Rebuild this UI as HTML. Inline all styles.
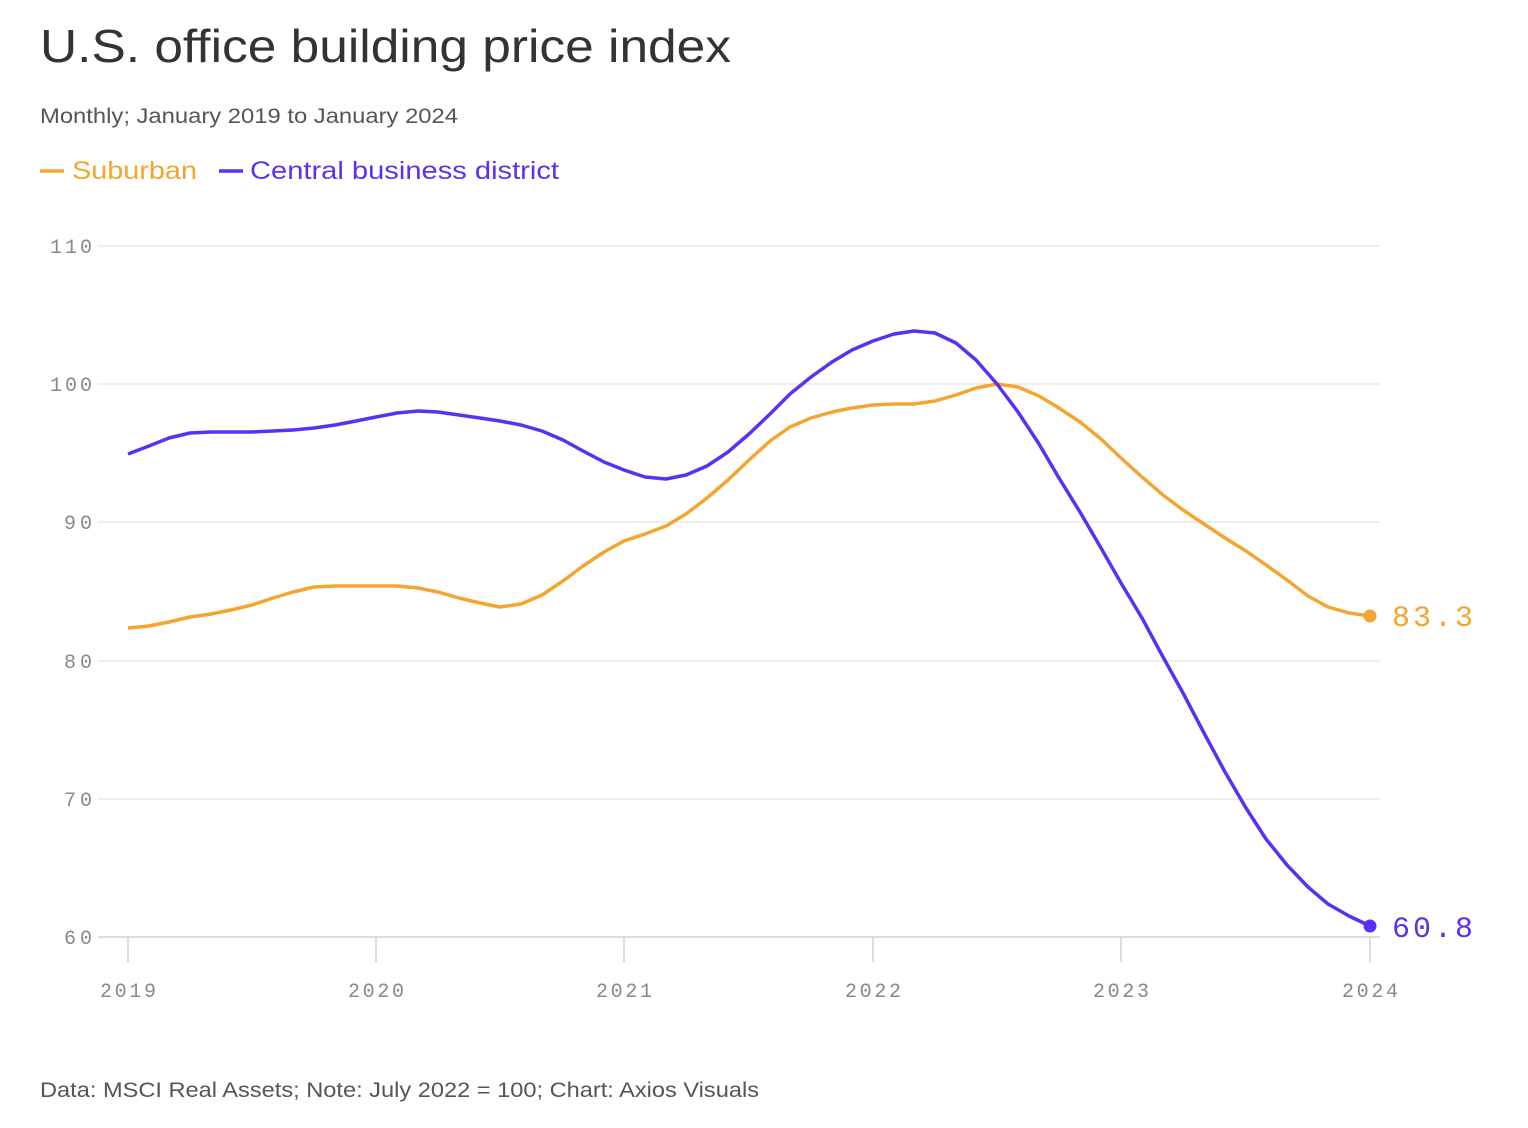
<!DOCTYPE html>
<html><head><meta charset="utf-8"><style>
body{margin:0;background:#fff;width:1528px;height:1128px;overflow:hidden;font-family:"Liberation Sans",sans-serif;}
</style></head><body>
<svg width="1528" height="1128" xmlns="http://www.w3.org/2000/svg" style="position:absolute;left:0;top:0">
<text x="40" y="62" font-size="46" fill="#333" font-family="Liberation Sans, sans-serif" textLength="691" lengthAdjust="spacingAndGlyphs">U.S. office building price index</text>
<text x="40" y="123" font-size="21" fill="#555" font-family="Liberation Sans, sans-serif" textLength="418" lengthAdjust="spacingAndGlyphs">Monthly; January 2019 to January 2024</text>
<line x1="40" y1="171" x2="64" y2="171" stroke="#f4a52f" stroke-width="3.5"/>
<text x="72" y="179" font-size="25" fill="#f4a52f" font-family="Liberation Sans, sans-serif" textLength="125" lengthAdjust="spacingAndGlyphs">Suburban</text>
<line x1="219" y1="171" x2="243" y2="171" stroke="#5a31f4" stroke-width="3.5"/>
<text x="250" y="179" font-size="25" fill="#5a31f4" font-family="Liberation Sans, sans-serif" textLength="309" lengthAdjust="spacingAndGlyphs">Central business district</text>
<g stroke="#ddd" stroke-width="1">
<line x1="98" y1="246" x2="1380" y2="246"/>
<line x1="98" y1="384" x2="1380" y2="384"/>
<line x1="98" y1="522" x2="1380" y2="522"/>
<line x1="98" y1="661" x2="1380" y2="661"/>
<line x1="98" y1="799" x2="1380" y2="799"/>
</g>
<line x1="98" y1="937" x2="1380" y2="937" stroke="#bbb" stroke-width="1"/>
<g stroke="#bbb"><line x1="128" y1="937" x2="128" y2="962"/><line x1="376" y1="937" x2="376" y2="962"/><line x1="624" y1="937" x2="624" y2="962"/><line x1="873" y1="937" x2="873" y2="962"/><line x1="1121" y1="937" x2="1121" y2="962"/><line x1="1370" y1="937" x2="1370" y2="962"/></g>
<g font-family="Liberation Mono, monospace" font-size="20" fill="#888">
<text x="50" y="253" textLength="42">110</text>
<text x="50" y="391" textLength="42">100</text>
<text x="64" y="529" textLength="28">90</text>
<text x="64" y="668" textLength="28">80</text>
<text x="64" y="806" textLength="28">70</text>
<text x="64" y="944" textLength="28">60</text>
<text x="100" y="997" textLength="56">2019</text><text x="348" y="997" textLength="56">2020</text><text x="596" y="997" textLength="56">2021</text><text x="845" y="997" textLength="56">2022</text><text x="1093" y="997" textLength="56">2023</text><text x="1342" y="997" textLength="56">2024</text>
</g>
<polyline fill="none" stroke="#f4a52f" stroke-width="3.5" stroke-linejoin="round" points="128,628 149,626 169,622 190,617 211,614 231,610 252,605 273,598 293,592 314,587 335,586 356,586 376,586 397,586 418,588 438,592 459,598 480,603 500,607 521,604 542,595 563,581 583,566 604,552 624,541 645,534 666,526 686,514 707,498 728,480 749,460 770,441 790,427 811,418 832,412 852,408 873,405 894,404 914,404 935,401 956,395 976,388 997,384 1018,387 1039,396 1059,408 1080,422 1101,439 1121,458 1142,477 1163,495 1183,510 1204,524 1225,538 1246,551 1266,565 1287,580 1308,596 1328,607 1349,613 1370,616"/>
<polyline fill="none" stroke="#5a31f4" stroke-width="3.5" stroke-linejoin="round" points="128,454 149,446 169,438 190,433 211,432 231,432 252,432 273,431 293,430 314,428 335,425 356,421 376,417 397,413 418,411 438,412 459,415 480,418 500,421 521,425 542,431 563,440 583,451 604,462 624,470 645,477 666,479 686,475 707,466 728,452 749,434 770,414 790,394 811,377 832,362 852,350 873,341 894,334 914,331 935,333 956,343 976,360 997,384 1018,412 1039,444 1059,478 1080,512 1101,548 1121,583 1142,618 1163,657 1183,693 1204,733 1225,772 1246,808 1266,839 1287,865 1308,887 1328,904 1349,916 1370,926"/>
<circle cx="1370" cy="616" r="6.5" fill="#f4a52f"/>
<circle cx="1370" cy="926" r="6.5" fill="#5a31f4"/>
<text x="1392" y="626" font-family="Liberation Mono, monospace" font-size="30" fill="#f4a52f" textLength="81">83.3</text>
<text x="1392" y="937" font-family="Liberation Mono, monospace" font-size="30" fill="#5a31f4" textLength="81">60.8</text>
<text x="40" y="1097" font-size="21" fill="#555" font-family="Liberation Sans, sans-serif" textLength="719" lengthAdjust="spacingAndGlyphs">Data: MSCI Real Assets; Note: July 2022 = 100; Chart: Axios Visuals</text>
</svg>
</body></html>
